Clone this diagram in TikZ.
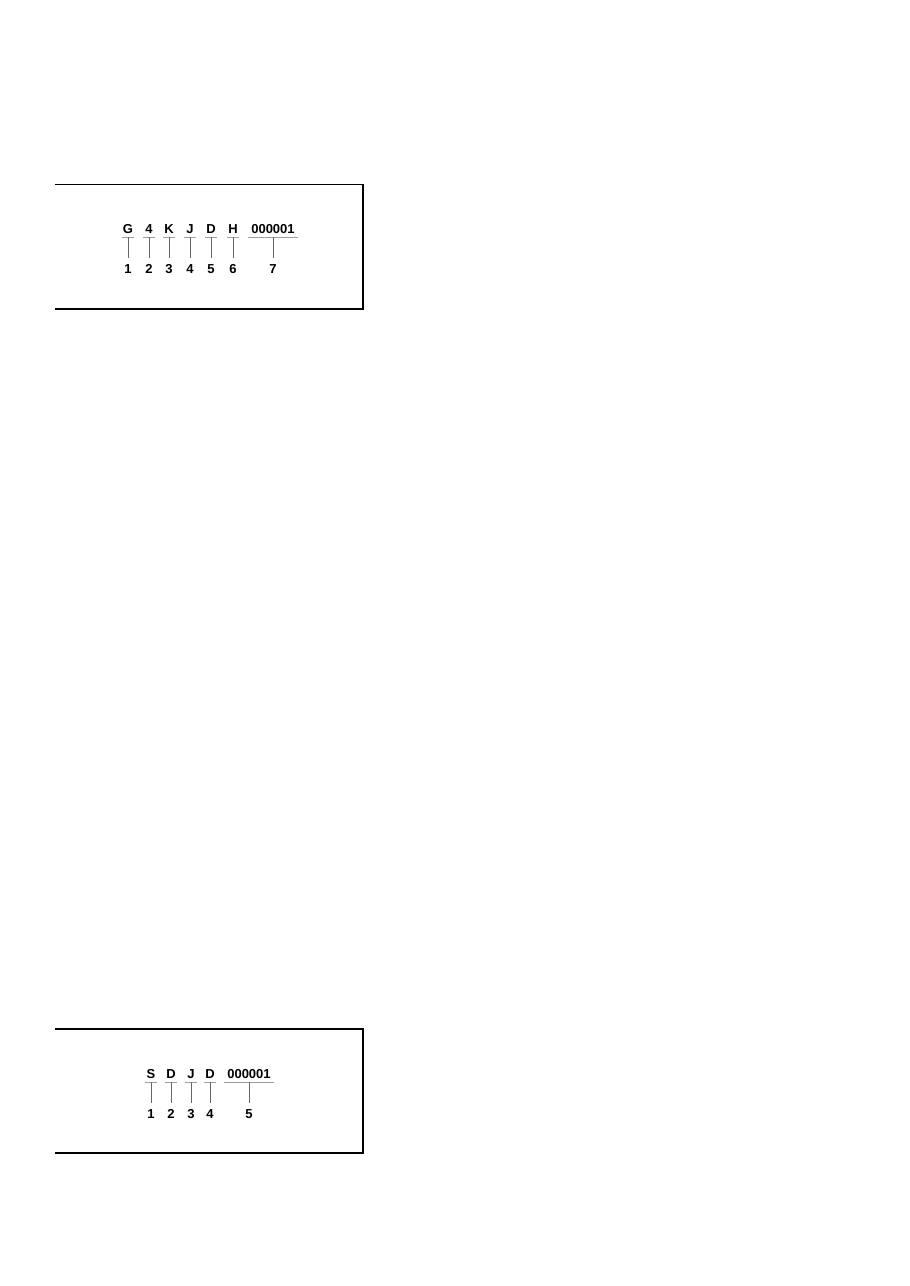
\documentclass[tikz,border=0pt]{standalone}
\usepackage{fontspec}
\setmainfont{Liberation Sans}
\usetikzlibrary{positioning}

\tikzset{
    code/.style={font=\bfseries\fontsize{13}{13}\selectfont, anchor=base,
        inner xsep=0pt, inner ysep=4pt, text height=9.3pt, text depth=0pt,
        minimum width=12pt},
    serial/.style={code, minimum width=50pt},
    place/.style={font=\bfseries\fontsize{13}{13}\selectfont,
        inner sep=0pt, text height=9.3pt, text depth=0pt, outer ysep=6.5pt},
    uline/.style={draw=gray!75, line width=0.9pt},
    lead/.style={draw=gray!80!black, line width=0.6pt},
    frame/.style={draw=black, line width=1.2pt}
}

\begin{document}
\begin{tikzpicture}[x=1pt, y=-1pt, node distance=20.5pt]
    \useasboundingbox (0,0) rectangle (910,1286);

    % upper box, open on the left
    \draw[frame] (55,184.5) -- (363,184.5) -- (363,309) -- (55,309);

    \node[code] (g)  at (128,233) {G};
    \node[code] (v4) at (149,233) {4};
    \node[code] (k)  at (169,233) {K};
    \node[code] (j)  at (190,233) {J};
    \node[code] (d)  at (211,233) {D};
    \node[code] (h)  at (233,233) {H};
    \node[serial] (sn) at (273,233) {000001};

    \node[place, below=of g]  (n1) {1};
    \node[place, below=of v4] (n2) {2};
    \node[place, below=of k]  (n3) {3};
    \node[place, below=of j]  (n4) {4};
    \node[place, below=of d]  (n5) {5};
    \node[place, below=of h]  (n6) {6};
    \node[place, below=of sn] (n7) {7};

    % underlines and leaders
    \foreach \a/\b in {g/n1, v4/n2, k/n3, j/n4, d/n5, h/n6, sn/n7} {
        \draw[uline] (\a.south west) -- (\a.south east);
        \draw[lead] (\a.south) -- (\b.north);
    }

    % lower box, open on the left
    \draw[frame] (55,1029) -- (363,1029) -- (363,1153) -- (55,1153);

    \node[code] (s)   at (151,1078) {S};
    \node[code] (d1)  at (171,1078) {D};
    \node[code] (j1)  at (191,1078) {J};
    \node[code] (d2)  at (210,1078) {D};
    \node[serial] (sn1) at (249,1078) {000001};

    \node[place, below=of s]   (m1) {1};
    \node[place, below=of d1]  (m2) {2};
    \node[place, below=of j1]  (m3) {3};
    \node[place, below=of d2]  (m4) {4};
    \node[place, below=of sn1] (m5) {5};

    % underlines and leaders
    \foreach \a/\b in {s/m1, d1/m2, j1/m3, d2/m4, sn1/m5} {
        \draw[uline] (\a.south west) -- (\a.south east);
        \draw[lead] (\a.south) -- (\b.north);
    }
\end{tikzpicture}
\end{document}
